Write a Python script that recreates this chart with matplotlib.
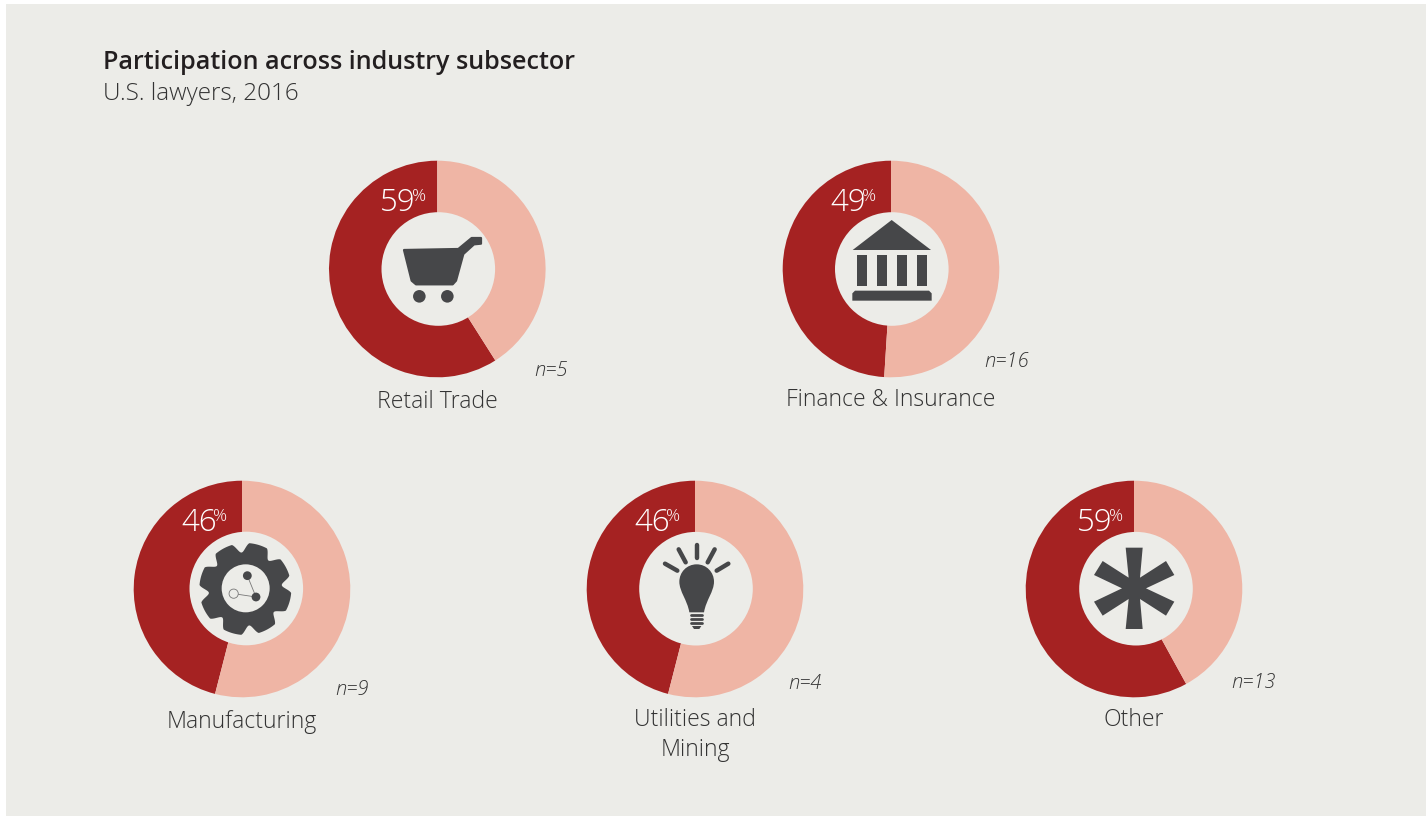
"""Participation across industry subsector - five donuts with pictograms."""
import numpy as np
import matplotlib
matplotlib.use("Agg")
import matplotlib.pyplot as plt
from matplotlib.patches import Rectangle, Polygon, Circle, PathPatch
from matplotlib.path import Path

W, H = 1426, 816
BG = "#ecece8"
DARK = "#a52222"
LIGHT = "#efb5a5"
ICON = "#464749"
TEXT = "#333333"
FONT = "Open Sans"

sectors = ["Retail Trade", "Finance & Insurance", "Manufacturing",
           "Utilities and\nMining", "Other"]
shares = [59, 49, 46, 46, 59]
# what the arcs actually sweep; "Other" is printed as 59 but drawn at 58
arc_shares = [59, 49, 46, 46, 58]
counts = [5, 16, 9, 4, 13]

# layout, in reference pixels (y measured from the top)
centers = [(437.3, 269), (891, 269), (242, 589), (695, 589), (1134, 589)]
# the holes are not quite centred in the reference
holes = [(438.3, 269), (891.8, 269), (246.3, 588.5), (696, 588.7), (1136, 588.7)]
pct_x = [380, 830, 181, 634, 1077]
label_y = [408, 406, 728, 756, 726]
n_pos = [(534, 376), (984, 367), (335, 695), (788, 689), (1231, 688)]
R_OUT, R_IN = 108.3, 56.8


def py(y):
    return H - y


def zoomed(points, x0, y0):
    return [(x0 + px / 3, py(y0 + qy / 3)) for px, qy in points]


fig = plt.figure(figsize=(W / 100, H / 100), dpi=100, facecolor="white")
ax = fig.add_axes([0, 0, 1, 1])

for (cx, cy), s, (hx, hy) in zip(centers, arc_shares, holes):
    ax.pie([s, 100 - s], colors=[DARK, LIGHT], startangle=90, counterclock=True,
           center=(cx, py(cy)), radius=R_OUT, wedgeprops=dict(linewidth=0))
    ax.add_patch(Circle((hx, py(hy)), R_IN, facecolor=BG, edgecolor="none", zorder=2))
ax.add_patch(Rectangle((6, 0), W - 6, H - 4, facecolor=BG, edgecolor="none", zorder=0))
ax.set_xlim(0, W)
ax.set_ylim(0, H)
ax.set_aspect("equal")
ax.axis("off")

# --- text ---
ax.text(103, py(69), "Participation across industry subsector", fontsize=18.1,
        fontweight="semibold", family=FONT, color="#231f20")
ax.text(103, py(100), "U.S. lawyers, 2016", fontsize=17.5, fontweight="light",
        family=FONT, color=TEXT)

for (cx, cy), s, x, ly, name, n, (nx, ny) in zip(centers, shares, pct_x, label_y,
                                                  sectors, counts, n_pos):
    ax.text(x, py(cy - 58), str(s), fontsize=22.5, fontweight="light", family=FONT,
            color="white")
    ax.text(x + 32, py(cy - 68), "%", fontsize=12.5, fontweight="light", family=FONT,
            color="white")
    ax.text(cx, py(ly), name, fontsize=16.6, fontweight="light", family=FONT, color=TEXT,
            ha="center", va="baseline", linespacing=1.31)
    ax.text(nx, py(ny), f"n={n}", fontsize=14.5, fontweight="light", style="italic",
            family=FONT, color=TEXT)

# --- pictograms ---
# cart
cart = [(252, 300), (415, 297), (455, 264), (483, 264), (483, 281), (462, 283),
        (430, 312), (408, 392), (398, 403), (288, 403), (275, 392)]
ax.add_patch(Polygon(zoomed(cart, 320, 150), facecolor=ICON, edgecolor=ICON,
                     linewidth=1.6, joinstyle="round", zorder=3))
for wx, wy in [(298, 439), (382, 439)]:
    (x, y), = zoomed([(wx, wy)], 320, 150)
    ax.add_patch(Circle((x, y), 6.3, facecolor=ICON, edgecolor="none", zorder=3))

# bank
roof = [(215, 120), (333, 210), (98, 210)]
ax.add_patch(Polygon(zoomed(roof, 820, 180), facecolor=ICON, edgecolor="none", zorder=3))
for left in [111, 171, 231, 291]:
    col = [(left, 225), (left + 30, 225), (left + 30, 318), (left, 318)]
    ax.add_patch(Polygon(zoomed(col, 820, 180), facecolor=ICON, edgecolor="none", zorder=3))
base = [(105, 332), (327, 332), (335, 340), (335, 362), (97, 362), (97, 340)]
ax.add_patch(Polygon(zoomed(base, 820, 180), facecolor=ICON, edgecolor="none", zorder=3))

# gear
theta = np.linspace(0, 2 * np.pi, 721)
rad = 138 - 28 * np.clip(np.cos(8 * (theta - np.radians(6))), 0, 1) ** 1.5
gear = list(zip(211 + rad * np.cos(theta), 192 - rad * np.sin(theta)))
ax.add_patch(Polygon(zoomed(gear, 175, 525), facecolor=ICON, edgecolor="none", zorder=3))
(gx, gy), = zoomed([(212, 190)], 175, 525)
ax.add_patch(Circle((gx, gy), 24, facecolor=BG, edgecolor="none", zorder=3))
nodes = zoomed([(217, 152), (243, 216), (176, 206)], 175, 525)
ax.plot([nodes[0][0], nodes[1][0], nodes[2][0]], [nodes[0][1], nodes[1][1], nodes[2][1]],
        color="#777777", linewidth=0.6, zorder=3)
ax.add_patch(Circle(nodes[0], 4.4, facecolor=ICON, edgecolor="none", zorder=4))
ax.add_patch(Circle(nodes[1], 4.4, facecolor=ICON, edgecolor="none", zorder=4))
ax.add_patch(Circle(nodes[2], 4.6, facecolor=BG, edgecolor="#777777", linewidth=0.6, zorder=4))

# bulb
glass_pts = [(200, 118), (170, 118), (148, 142), (148, 170), (148, 200), (172, 225),
             (178, 262), (222, 262), (228, 225), (252, 200),
             (252, 170), (252, 142), (230, 118), (200, 118)]
codes = [Path.MOVETO] + [Path.CURVE4] * 6 + [Path.LINETO] + [Path.CURVE4] * 6
ax.add_patch(PathPatch(Path(zoomed(glass_pts, 630, 525), codes), facecolor=ICON,
                       edgecolor="none", zorder=3))
rays = [((200, 60), (200, 98)), ((146, 73), (167, 112)), ((254, 73), (233, 112)),
        ((105, 116), (142, 137)), ((295, 116), (260, 137))]
for a, b in rays:
    (x1, y1), (x2, y2) = zoomed([a, b], 630, 525)
    ax.plot([x1, x2], [y1, y2], color=ICON, linewidth=3.2, solid_capstyle="round", zorder=3)
for qy, half in [(270, 17), (282, 17), (294, 17)]:
    (x1, y1), (x2, y2) = zoomed([(200 - half, qy), (200 + half, qy)], 630, 525)
    ax.plot([x1, x2], [y1, y2], color=ICON, linewidth=2.0, solid_capstyle="round", zorder=3)
tip = [(186, 303), (214, 303), (208, 312), (192, 312)]
ax.add_patch(Polygon(zoomed(tip, 630, 525), facecolor=ICON, edgecolor="none", zorder=3))

# asterisk
star = [(167, 68), (218, 68), (210, 158), (288, 108), (313, 150), (228, 190), (313, 230),
        (288, 272), (210, 222), (218, 312), (167, 312), (176, 222), (98, 272), (72, 230),
        (156, 190), (72, 150), (98, 108), (176, 158)]
ax.add_patch(Polygon(zoomed(star, 1070, 525), facecolor=ICON, edgecolor="none", zorder=3))

fig.savefig("out.png", dpi=100, facecolor="white")
